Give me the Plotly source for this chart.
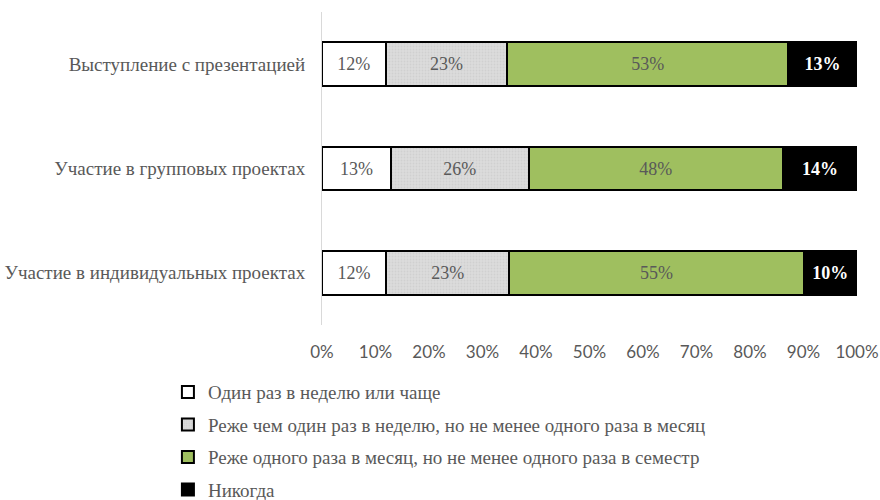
import plotly.graph_objects as go

categories = [
    "Участие в индивидуальных проектах",
    "Участие в групповых проектах",
    "Выступление с презентацией",
]
series_names = [
    "Один раз в неделю или чаще",
    "Реже чем один раз в неделю, но не менее одного раза в месяц",
    "Реже одного раза в месяц, но не менее одного раза в семестр",
    "Никогда",
]
weekly = [12, 13, 12]
monthly = [23, 26, 23]
semester = [55, 48, 53]
never = [10, 14, 13]
x_ticks = list(range(0, 101, 10))

SERIF = "Liberation Serif, Times New Roman, serif"
GRAY_TXT = "#595959"

styles = [
    dict(color="white"),
    dict(color="#dcdcdc", pattern=dict(shape=".", fgcolor="#c4c4c4", fillmode="overlay", size=3, solidity=0.3)),
    dict(color="#9fbf5f"),
    dict(color="black"),
]
text_fonts = [
    dict(family=SERIF, size=18, color=GRAY_TXT),
    dict(family=SERIF, size=18, color=GRAY_TXT),
    dict(family=SERIF, size=18, color=GRAY_TXT),
    dict(family=SERIF, size=18, color="white", weight="bold"),
]

fig = go.Figure()
for i, (name, vals) in enumerate(zip(series_names, [weekly, monthly, semester, never])):
    fig.add_trace(go.Bar(
        y=categories, x=vals, name=name, orientation="h",
        text=[f"{v}%" for v in vals], textposition="inside",
        insidetextanchor="middle", textangle=0,
        textfont=text_fonts[i],
        marker=dict(line=dict(color="black", width=2), **styles[i]),
        width=0.42,
        legendgroup=str(i),
    ))

fig.update_layout(
    barmode="stack",
    barnorm="percent",
    width=880, height=500,
    margin=dict(l=322, r=23, t=12, b=175, autoexpand=False),
    plot_bgcolor="white", paper_bgcolor="white",
    showlegend=True,
    legend=dict(
        x=-0.288, y=-0.154,
        xanchor="left", yanchor="top",
        traceorder="grouped", tracegroupgap=4.8,
        font=dict(family=SERIF, size=19, color=GRAY_TXT),
        itemwidth=30,
    ),
    xaxis=dict(
        range=[0, 100], tickvals=x_ticks,
        ticktext=[f"{v}%" for v in x_ticks], tickangle=0,
        showgrid=False, zeroline=False, showline=False, automargin=False,
        tickfont=dict(family="Lato, Liberation Sans, sans-serif", size=17, color=GRAY_TXT),
        ticklabelstandoff=15,
    ),
    yaxis=dict(
        range=[-0.5, 2.5], showgrid=False, zeroline=False, automargin=False,
        showline=True, linecolor="#d9d9d9", linewidth=1,
        tickfont=dict(family=SERIF, size=19, color=GRAY_TXT),
        ticklabelstandoff=12,
    ),
)

# drop the default 8px body margin so the figure fills the window exactly
fig.write_html(
    "out.html",
    config={"displayModeBar": False},
    post_script="document.body.style.margin='0';",
)
